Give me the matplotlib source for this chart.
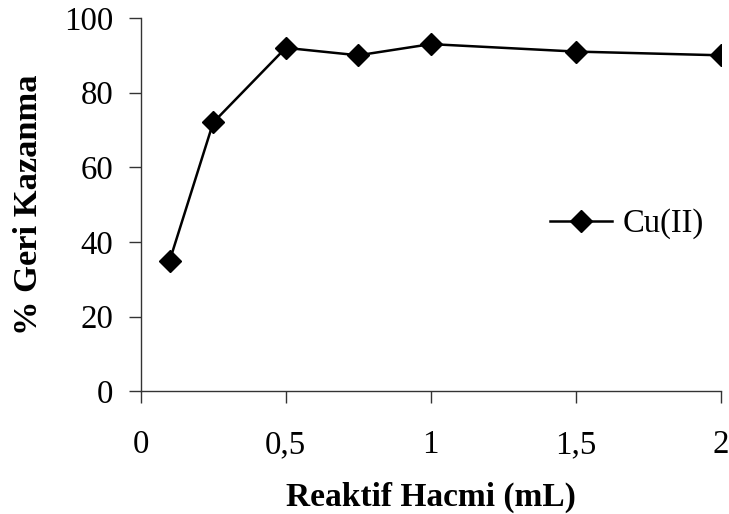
import matplotlib
matplotlib.use("Agg")
import matplotlib.pyplot as plt

# veri
hacim = [0.1, 0.25, 0.5, 0.75, 1.0, 1.5, 2.0]
geri_kazanma = [35, 72, 92, 90, 93, 91, 90]
x_ticks = [0, 0.5, 1, 1.5, 2]
x_etiket = ["0", "0,5", "1", "1,5", "2"]
y_ticks = [0, 20, 40, 60, 80, 100]

plt.rcParams["font.family"] = ["Liberation Serif", "DejaVu Serif"]

fig = plt.figure(figsize=(7.29, 5.14), dpi=100)
ax = fig.add_axes([0.193, 0.239, 0.796, 0.726])

ax.plot(hacim, geri_kazanma, color="black", lw=1.8, marker="D", ms=11.5,
        label="Cu(II)")

ax.set_xlim(0, 2)
ax.set_ylim(0, 100)
ax.set_xticks(x_ticks)
ax.set_xticklabels(x_etiket)
ax.set_yticks(y_ticks)

for s in ["top", "right"]:
    ax.spines[s].set_visible(False)
for s in ["left", "bottom"]:
    ax.spines[s].set_linewidth(1.0)
    ax.spines[s].set_color("#333333")

ax.tick_params(axis="both", direction="out", length=8.5, width=1.0,
               color="#333333", labelsize=23.7)
ax.tick_params(axis="y", pad=11)
ax.tick_params(axis="x", pad=19)

ax.set_xlabel("Reaktif Hacmi (mL)", fontsize=24, fontweight="bold", labelpad=16)
ax.set_ylabel("% Geri Kazanma", fontsize=24.8, fontweight="bold", labelpad=15)

leg = ax.legend(loc="center left", bbox_to_anchor=(0.706, 0.448),
                frameon=False, fontsize=23.5, handlelength=1.9,
                handletextpad=0.3, borderpad=0, borderaxespad=0)

fig.savefig("out.png", dpi=100)
